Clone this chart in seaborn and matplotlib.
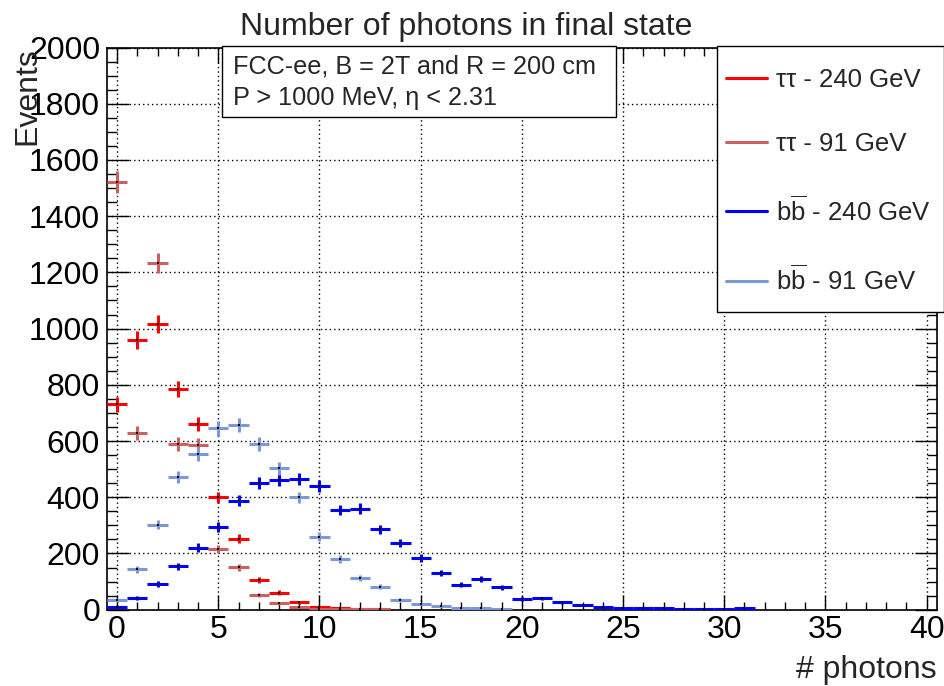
import numpy as np
import pandas as pd
import matplotlib
matplotlib.use("Agg")
import matplotlib.pyplot as plt
from matplotlib.lines import Line2D
from matplotlib.patches import Rectangle
from matplotlib.ticker import MultipleLocator
import seaborn as sns

# ---------------- data ----------------
tautau_240 = [730, 960, 1016, 784, 660, 400, 253, 106, 61, 26, 11, 5, 2, 2]
tautau_91 = [1521, 630, 1234, 590, 586, 215, 151, 52, 24, 8, 3, 2, 1, 1]
bb_240 = [11, 42, 91, 154, 221, 294, 388, 452, 463, 466, 440, 355, 359, 286,
          237, 183, 131, 89, 109, 80, 38, 40, 26, 17, 10, 7, 6, 6, 3, 3, 2, 5]
bb_91 = [35, 144, 303, 471, 554, 645, 656, 590, 503, 400, 260, 180, 114, 82,
         35, 21, 13, 7, 5, 1]

series_names = ["tt240", "tt91", "bb240", "bb91"]
series_values = [tautau_240, tautau_91, bb_240, bb_91]
series_labels = [u"\u03c4\u03c4 - 240 GeV", u"\u03c4\u03c4 - 91 GeV",
                 r"b$\mathregular{\overline{b}}$ - 240 GeV",
                 r"b$\mathregular{\overline{b}}$ - 91 GeV"]
series_colors = ["#ff0000", "#cc5f5f", "#0000ff", "#7b98d8"]

title = "Number of photons in final state"
info_lines = ["FCC-ee, B = 2T and R = 200 cm", u"P > 1000 MeV, \u03b7 < 2.31"]

rows = []
for name, vals in zip(series_names, series_values):
    for i, v in enumerate(vals):
        rows.append({"sample": name, "n": i, "events": v})
df = pd.DataFrame(rows)

# ---------------- style ----------------
sns.set_style("ticks")
plt.rcParams["font.family"] = ["Liberation Sans", "DejaVu Sans"]
plt.rcParams["mathtext.fontset"] = "custom"
plt.rcParams["mathtext.rm"] = "Liberation Sans"
plt.rcParams["mathtext.it"] = "Liberation Sans"
plt.rcParams["axes.unicode_minus"] = False

W, H = 945, 686
fig = plt.figure(figsize=(W / 100, H / 100), dpi=100)
L, R, T, B = 107, 936.7, 47.5, 609.7
ax = fig.add_axes([L / W, 1 - B / H, (R - L) / W, (B - T) / H])

# ---------------- histogram-style error crosses ----------------
for name, color in zip(series_names, series_colors):
    d = df[df["sample"] == name]
    ax.errorbar(d["n"], d["events"], xerr=0.5, yerr=np.sqrt(d["events"]),
                fmt="none", ecolor=color, elinewidth=2.2, capsize=0, zorder=3)
sns.scatterplot(data=df, x="n", y="events", ax=ax, color="black", marker="s",
                s=2, linewidth=0, legend=False, zorder=4)

ax.set_xlim(-0.5, 40.5)
ax.set_ylim(0, 2000)
ax.xaxis.set_major_locator(MultipleLocator(5))
ax.xaxis.set_minor_locator(MultipleLocator(1))
ax.yaxis.set_major_locator(MultipleLocator(200))
ax.yaxis.set_minor_locator(MultipleLocator(50))
ax.grid(True, which="major", linestyle=(0, (1, 2.2)), color="black", linewidth=1.0)
ax.set_axisbelow(True)

for s in ax.spines.values():
    s.set_linewidth(1.2)
    s.set_color("black")
ax.tick_params(which="both", direction="in", top=True, right=True,
               colors="black", labelsize=23, width=1.0)
ax.tick_params(axis="x", which="major", length=11, pad=4)
ax.tick_params(axis="x", which="minor", length=5.5)
ax.tick_params(axis="y", which="major", length=16, pad=5)
ax.tick_params(axis="y", which="minor", length=7.5)

ax.set_xlabel("# photons", fontsize=23, loc="right")
ax.set_ylabel("Events", fontsize=23, loc="top")
ax.xaxis.set_label_coords(1.0, -0.081)
ax.yaxis.set_label_coords(-0.078, 1.0)

fig.text(466.5 / W, 1 - 35 / H, title, fontsize=23, ha="center", va="baseline")

# ---------------- info box ----------------
fig.patches.append(Rectangle((222 / W, 1 - 117 / H), (616 - 222) / W, (117 - 46) / H,
                             transform=fig.transFigure, facecolor="white",
                             edgecolor="black", linewidth=1.0, zorder=5))
fig.text(233 / W, 1 - 73.5 / H, info_lines[0], fontsize=18.2, ha="left",
         va="baseline", zorder=6)
fig.text(233 / W, 1 - 105 / H, info_lines[1], fontsize=18.2, ha="left",
         va="baseline", zorder=6)

# ---------------- legend ----------------
fig.patches.append(Rectangle((717 / W, 1 - 312 / H), (944 - 717) / W, (312 - 46) / H,
                             transform=fig.transFigure, facecolor="white",
                             edgecolor="black", linewidth=1.0, zorder=5))
handles = [Line2D([], [], color=c, linewidth=2.2) for c in series_colors]
leg = fig.legend(handles, series_labels, loc="center left",
                 bbox_to_anchor=(726 / W, 1 - 181.5 / H), frameon=False,
                 fontsize=18.5, handlelength=1.6, handletextpad=0.35,
                 labelspacing=1.55, borderpad=0, borderaxespad=0)
leg.set_zorder(7)

fig.savefig("out.png", dpi=100)
